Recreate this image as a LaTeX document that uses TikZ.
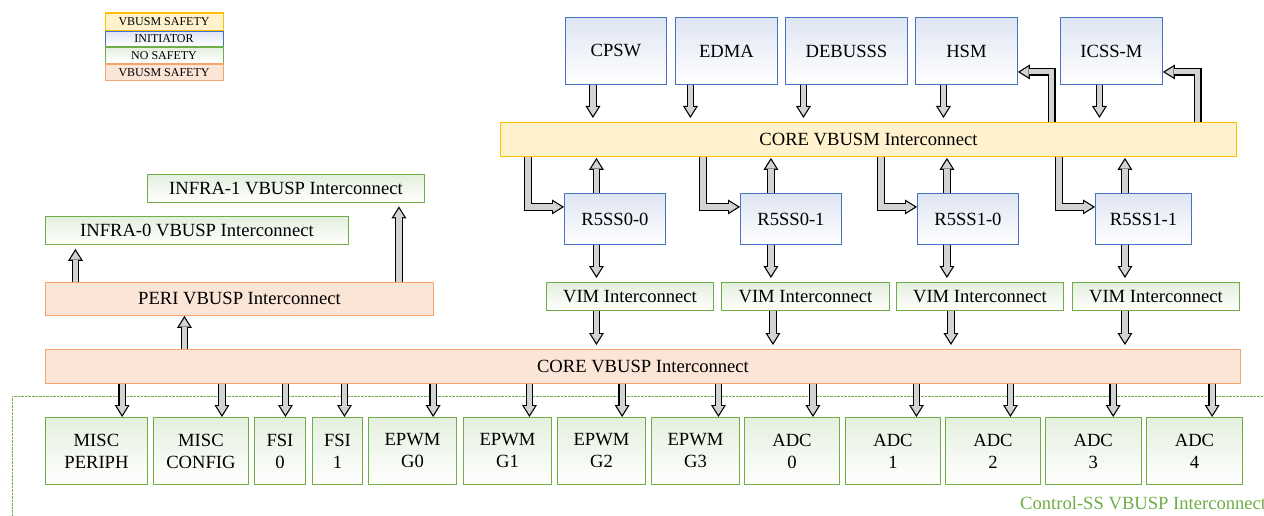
\documentclass[tikz,border=0pt]{standalone}
\usepackage{fontspec}
\setmainfont{Liberation Serif}
\usetikzlibrary{arrows.meta}

\definecolor{initborder}{HTML}{4472C4}
\definecolor{inittop}{HTML}{DFE5F3}
\definecolor{nsborder}{HTML}{70AD47}
\definecolor{nstop}{HTML}{E4EFDE}
\definecolor{mfill}{HTML}{FFF2CC}
\definecolor{mborder}{HTML}{FFC000}
\definecolor{pfill}{HTML}{FBE5D6}
\definecolor{pborder}{HTML}{F4A46C}
\definecolor{busgray}{HTML}{D3D3D3}

\tikzset{
  wh/.style 2 args={minimum width=#1pt, minimum height=#2pt},
  box/.style={anchor=north west, line width=0.9pt, inner sep=0pt, align=center,
    font=\fontsize{18.6}{22}\selectfont},
  initbox/.style={box, draw=initborder, top color=inittop, bottom color=white},
  nsbox/.style={box, draw=nsborder, top color=nstop, bottom color=white},
  mbus/.style={box, draw=mborder, fill=mfill},
  pbus/.style={box, draw=pborder, fill=pfill},
  legbox/.style={box, line width=1.1pt, font=\fontsize{12}{13}\selectfont},
  bus/.style={draw=busgray, line width=5.1pt, shorten >=2.3pt,
    -{Triangle[width=10.7pt, length=8.5pt, line width=0pt]},
    preaction={draw=black, line width=7.5pt, shorten >=0pt,
      -{Triangle[width=15pt, length=12pt, line width=0pt]}}}
}

\begin{document}
\begin{tikzpicture}[x=1pt, y=-1pt]
\useasboundingbox (0,0) rectangle (1264,516);
\clip (0,0) rectangle (1264,516);

% Legend
\node[legbox, draw=mborder, fill=mfill, wh={118}{17.5}] (legm) at (104.5,12.5) {VBUSM SAFETY};
\node[legbox, draw=initborder, top color=inittop, bottom color=white, wh={118}{15}] (legi) at (104.5,30.8) {INITIATOR};
\node[legbox, draw=nsborder, top color=nstop, bottom color=white, wh={118}{16.5}] (legn) at (104.5,46.5) {NO SAFETY};
\node[legbox, draw=pborder, fill=pfill, wh={118}{16.5}] (legp) at (104.5,63.5) {VBUSM SAFETY};

% Initiators
\node[initbox, wh={101}{67}] (cpsw) at (565,17) {CPSW};
\node[initbox, wh={102}{67}] (edma) at (675,17) {EDMA};
\node[initbox, wh={122}{67}] (debusss) at (785,17) {DEBUSSS};
\node[initbox, wh={102}{67}] (hsm) at (915,17) {HSM};
\node[initbox, wh={102}{67}] (icss) at (1060,17) {ICSS-M};

% CORE VBUSM interconnect
\node[mbus, wh={736}{34}] (vbusm) at (500,122) {CORE VBUSM Interconnect};

% R5 subsystems
\node[initbox, wh={101}{51}] (r00) at (564,193) {R5SS0-0};
\node[initbox, wh={101}{51}] (r01) at (740,193) {R5SS0-1};
\node[initbox, wh={101}{51}] (r10) at (917,193) {R5SS1-0};
\node[initbox, wh={96}{51}] (r11) at (1095,193) {R5SS1-1};

% VIM interconnects
\node[nsbox, wh={167}{28}] (vim0) at (546,282) {VIM Interconnect};
\node[nsbox, wh={168}{28}] (vim1) at (721,282) {VIM Interconnect};
\node[nsbox, wh={167}{28}] (vim2) at (896,282) {VIM Interconnect};
\node[nsbox, wh={167}{28}] (vim3) at (1072,282) {VIM Interconnect};

% Peripheral side
\node[nsbox, wh={277}{28}] (infra1) at (147,174) {INFRA-1 VBUSP Interconnect};
\node[nsbox, wh={303}{28}] (infra0) at (45,216) {INFRA-0 VBUSP Interconnect};
\node[pbus, wh={388}{33}] (peri) at (45,282) {PERI VBUSP Interconnect};
\node[pbus, wh={1195}{34}] (corep) at (45,349) {CORE VBUSP Interconnect};

% Control-SS region
\draw[nsborder, line width=0.6pt, dash pattern=on 2.5pt off 1pt] (1270,396) -- (12.3,396) -- (12.3,520);
\node[anchor=base west, text=nsborder, font=\fontsize{18.6}{22}\selectfont, inner sep=0pt] (ctrl) at (1020,509) {Control-SS VBUSP Interconnect};

\node[nsbox, wh={102}{67}] (mp) at (45,417) {MISC\\PERIPH};
\node[nsbox, wh={95}{67}] (mc) at (153,417) {MISC\\CONFIG};
\node[nsbox, wh={51}{67}] (fsi0) at (254,417) {FSI\\0};
\node[nsbox, wh={50}{67}] (fsi1) at (312,417) {FSI\\1};
\node[nsbox, wh={88}{67}] (g0) at (368,417) {EPWM\\G0};
\node[nsbox, wh={88}{67}] (g1) at (463,417) {EPWM\\G1};
\node[nsbox, wh={88}{67}] (g2) at (557,417) {EPWM\\G2};
\node[nsbox, wh={88}{67}] (g3) at (651,417) {EPWM\\G3};
\node[nsbox, wh={95}{67}] (a0) at (744,417) {ADC\\0};
\node[nsbox, wh={95}{67}] (a1) at (845,417) {ADC\\1};
\node[nsbox, wh={95}{67}] (a2) at (945,417) {ADC\\2};
\node[nsbox, wh={95.5}{67}] (a3) at (1045,417) {ADC\\3};
\node[nsbox, wh={96}{67}] (a4) at (1146,417) {ADC\\4};

% Initiators into CORE VBUSM
\draw[bus] ([xshift=-23pt]cpsw.south) -- ([xshift=-23pt,yshift=4pt]cpsw.south |- vbusm.north);
\draw[bus] ([xshift=-36pt]edma.south) -- ([xshift=-36pt,yshift=4pt]edma.south |- vbusm.north);
\draw[bus] ([xshift=-43pt]debusss.south) -- ([xshift=-43pt,yshift=4pt]debusss.south |- vbusm.north);
\draw[bus] ([xshift=-23pt]hsm.south) -- ([xshift=-23pt,yshift=4pt]hsm.south |- vbusm.north);
\draw[bus] ([xshift=-12pt]icss.south) -- ([xshift=-12pt,yshift=4pt]icss.south |- vbusm.north);

% CORE VBUSM back to HSM and ICSS-M
\draw[bus] ([xshift=34pt]hsm.east |- vbusm.north) |- ([yshift=-21pt]hsm.east);
\draw[bus] ([xshift=35pt]icss.east |- vbusm.north) |- ([yshift=-21pt]icss.east);

% CORE VBUSM to R5 subsystems
\draw[bus] ([xshift=-36pt]r00.west |- vbusm.south) |- ([yshift=12pt]r00.west);
\draw[bus] ([xshift=-37pt]r01.west |- vbusm.south) |- ([yshift=12pt]r01.west);
\draw[bus] ([xshift=-36pt]r10.west |- vbusm.south) |- ([yshift=12pt]r10.west);
\draw[bus] ([xshift=-36pt]r11.west |- vbusm.south) |- ([yshift=12pt]r11.west);

% R5 subsystems up to CORE VBUSM
\draw[bus] ([xshift=-18.5pt]r00.north) -- ([xshift=-18.5pt,yshift=-1pt]r00.north |- vbusm.south);
\draw[bus] ([xshift=-20pt]r01.north) -- ([xshift=-20pt,yshift=-1pt]r01.north |- vbusm.south);
\draw[bus] ([xshift=-21pt]r10.north) -- ([xshift=-21pt,yshift=-1pt]r10.north |- vbusm.south);
\draw[bus] ([xshift=-18.5pt]r11.north) -- ([xshift=-18.5pt,yshift=-1pt]r11.north |- vbusm.south);

% R5 subsystems down to VIM
\draw[bus] ([xshift=-18.5pt]r00.south) -- ([xshift=-18.5pt,yshift=4pt]r00.south |- vim0.north);
\draw[bus] ([xshift=-20pt]r01.south) -- ([xshift=-20pt,yshift=4pt]r01.south |- vim1.north);
\draw[bus] ([xshift=-21pt]r10.south) -- ([xshift=-21pt,yshift=4pt]r10.south |- vim2.north);
\draw[bus] ([xshift=-18.5pt]r11.south) -- ([xshift=-18.5pt,yshift=4pt]r11.south |- vim3.north);

% VIM down to CORE VBUSP
\draw[bus] ([xshift=-18.5pt]r00.south |- vim0.south) -- ([xshift=-18.5pt,yshift=4pt]r00.south |- corep.north);
\draw[bus] ([xshift=-18pt]r01.south |- vim1.south) -- ([xshift=-18pt,yshift=4pt]r01.south |- corep.north);
\draw[bus] ([xshift=-17pt]r10.south |- vim2.south) -- ([xshift=-17pt,yshift=4pt]r10.south |- corep.north);
\draw[bus] ([xshift=-18.5pt]r11.south |- vim3.south) -- ([xshift=-18.5pt,yshift=4pt]r11.south |- corep.north);

% Peripheral interconnect chain
\draw[bus] ([xshift=-55pt]peri.south |- corep.north) -- ([xshift=-55pt]peri.south);
\draw[bus] ([xshift=-121.5pt]infra0.south |- peri.north) -- ([xshift=-121.5pt,yshift=-4pt]infra0.south);
\draw[bus] ([xshift=113pt]infra1.south |- peri.north) -- ([xshift=113pt,yshift=-3.5pt]infra1.south);

% CORE VBUSP to Control-SS peripherals
\draw[bus] ([xshift=25.7pt]mp.north |- corep.south) -- ([xshift=25.7pt]mp.north);
\draw[bus] ([xshift=21pt]mc.north |- corep.south) -- ([xshift=21pt]mc.north);
\draw[bus] ([xshift=5.5pt]fsi0.north |- corep.south) -- ([xshift=5.5pt]fsi0.north);
\draw[bus] ([xshift=7pt]fsi1.north |- corep.south) -- ([xshift=7pt]fsi1.north);
\draw[bus] ([xshift=20.7pt]g0.north |- corep.south) -- ([xshift=20.7pt]g0.north);
\draw[bus] ([xshift=22pt]g1.north |- corep.south) -- ([xshift=22pt]g1.north);
\draw[bus] ([xshift=20.7pt]g2.north |- corep.south) -- ([xshift=20.7pt]g2.north);
\draw[bus] ([xshift=23pt]g3.north |- corep.south) -- ([xshift=23pt]g3.north);
\draw[bus] ([xshift=21pt]a0.north |- corep.south) -- ([xshift=21pt]a0.north);
\draw[bus] ([xshift=23.5pt]a1.north |- corep.south) -- ([xshift=23.5pt]a1.north);
\draw[bus] ([xshift=17.5pt]a2.north |- corep.south) -- ([xshift=17.5pt]a2.north);
\draw[bus] ([xshift=20pt]a3.north |- corep.south) -- ([xshift=20pt]a3.north);
\draw[bus] ([xshift=17.7pt]a4.north |- corep.south) -- ([xshift=17.7pt]a4.north);
\end{tikzpicture}
\end{document}
